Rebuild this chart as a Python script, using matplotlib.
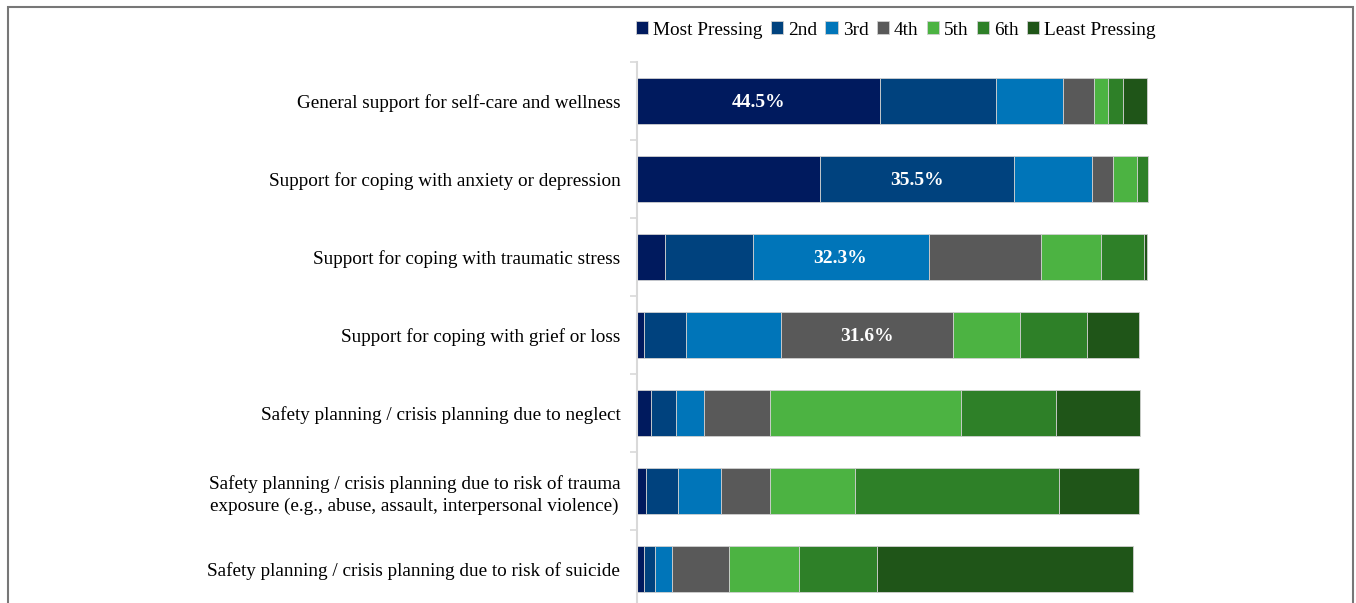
import matplotlib.pyplot as plt
import matplotlib.patches as mpatches
import numpy as np

plt.rcParams['font.family'] = ['Liberation Serif', 'DejaVu Serif']

# Datos (porcentajes por rango)
categorias = [
    "General support for self-care and wellness",
    "Support for coping with anxiety or depression",
    "Support for coping with traumatic stress",
    "Support for coping with grief or loss",
    "Safety planning / crisis planning due to neglect",
    "Safety planning / crisis planning due to risk of trauma\nexposure (e.g., abuse, assault, interpersonal violence)",
    "Safety planning / crisis planning due to risk of suicide",
]
rangos = ["Most Pressing", "2nd", "3rd", "4th", "5th", "6th", "Least Pressing"]

most_pressing = [44.5, 33.6, 5.1, 1.3, 2.5, 1.7, 1.3]
segundo = [21.3, 35.5, 16.1, 7.7, 4.6, 5.9, 2.0]
tercero = [12.3, 14.3, 32.3, 17.4, 5.2, 7.8, 3.2]
cuarto = [5.7, 3.9, 20.7, 31.6, 12.1, 9.0, 10.3]
quinto = [2.7, 4.5, 11.0, 12.3, 35.0, 15.6, 13.0]
sexto = [2.6, 2.0, 7.8, 12.3, 17.4, 37.4, 14.2]
least_pressing = [4.5, 0.0, 0.6, 9.6, 15.5, 14.8, 47.1]

# Etiquetas destacadas: (fila, serie)
etiquetas = [(0, 0), (1, 1), (2, 2), (3, 3)]

colores = ["#001A5E", "#00427E", "#0075B9", "#595959", "#4CB342", "#2E8028", "#1F5518"]

series = [most_pressing, segundo, tercero, cuarto, quinto, sexto, least_pressing]

fig = plt.figure(figsize=(13.56, 6.03), dpi=100)
W, H = 1356, 603
ax = fig.add_axes([637 / W, (H - 608) / H, 545 / W, 546 / H])

y = np.arange(len(categorias))
izquierda = np.zeros(len(categorias))
barras = []
for valores, color, nombre in zip(series, colores, rangos):
    b = ax.barh(y, valores, left=izquierda, height=0.58, color=color,
                edgecolor="#d0d0d0", linewidth=0.6, label=nombre)
    barras.append(b)
    izquierda += np.array(valores)

for fila, serie in etiquetas:
    inicio = sum(series[k][fila] for k in range(serie))
    valor = series[serie][fila]
    ax.text(inicio + valor / 2, fila + 0.02, f"{valor:.1f}%", ha="center", va="center",
            color="white", fontsize=14, fontweight="bold")

ax.set_xlim(0, 100)
ax.set_ylim(len(categorias) - 0.5, -0.5)

ax.set_yticks(y)
ax.set_yticklabels(categorias, fontsize=13.8, multialignment="center", linespacing=1.3)
ax.set_yticks(np.arange(-0.5, len(categorias), 1), minor=True)
ax.tick_params(axis="y", which="major", length=0, pad=12)
ax.tick_params(axis="y", which="minor", length=5, color="#d9d9d9", width=1.2)
ax.set_xticks([])

for lado in ["top", "right", "bottom"]:
    ax.spines[lado].set_visible(False)
ax.spines["left"].set_color("#d9d9d9")
ax.spines["left"].set_linewidth(1.5)

# Leyenda superior
fig.legend(handles=barras, labels=rangos, ncol=7, loc="center left",
           bbox_to_anchor=(628 / W, (H - 30) / H), frameon=False, fontsize=13.9,
           handlelength=0.65, handleheight=0.65, handletextpad=0.25,
           columnspacing=0.42, borderaxespad=0)

# Marco exterior
marco = mpatches.Rectangle((8 / W, -0.1), (1353 - 8) / W, 0.1 + (H - 7) / H,
                           transform=fig.transFigure, fill=False,
                           edgecolor="#777777", linewidth=1.5, clip_on=False)
fig.patches.append(marco)

fig.savefig("out.png", dpi=100)
